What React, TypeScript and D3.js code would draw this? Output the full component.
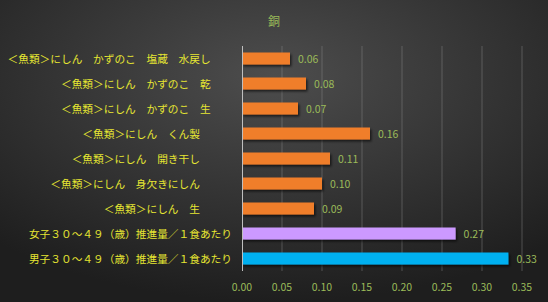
import {useEffect, useRef} from 'react';
import * as d3 from 'd3';

// data (labels keep their trailing ideographic spaces as in the source sheet)
const categories = [
  '＜魚類＞にしん　かずのこ　塩蔵　水戻し　　',
  '＜魚類＞にしん　かずのこ　乾　　',
  '＜魚類＞にしん　かずのこ　生　　',
  '＜魚類＞にしん　くん製　　　',
  '＜魚類＞にしん　開き干し　　　',
  '＜魚類＞にしん　身欠きにしん　　　',
  '＜魚類＞にしん　生　　　',
  '女子３０～４９（歳）推進量／１食あたり',
  '男子３０～４９（歳）推進量／１食あたり',
];
const values = [0.06, 0.08, 0.07, 0.16, 0.11, 0.10, 0.09, 0.267, 0.333];
const barColors = ['#F07E2C', '#F07E2C', '#F07E2C', '#F07E2C', '#F07E2C', '#F07E2C', '#F07E2C', '#CC99FF', '#00B0F0'];
const tickValues = [0, 0.05, 0.1, 0.15, 0.2, 0.25, 0.3, 0.35];
const title = '銅';

// parameters
const width = 548;
const height = 302;
const margin = {top: 46, right: 26, bottom: 31, left: 242};
const font = '"Noto Sans CJK JP", "Noto Sans", sans-serif';
const green = '#9BBB59';
const yellow = '#E6E632';

export default function App() {
  const ref = useRef(null);
  useEffect(() => {
    if (!ref.current) return;
    const svg = d3.select(ref.current);
    svg.selectAll('*').remove();

    // background
    const defs = svg.append('defs');
    const bg = defs.append('radialGradient')
      .attr('id', 'bg')
      .attr('cx', '50%').attr('cy', '25%').attr('r', '75%');
    bg.append('stop').attr('offset', '0%').attr('stop-color', '#4d4d4d');
    bg.append('stop').attr('offset', '100%').attr('stop-color', '#1e1e1e');
    const shadow = defs.append('filter').attr('id', 'shadow')
      .attr('x', '-10%').attr('y', '-30%').attr('width', '130%').attr('height', '190%');
    shadow.append('feDropShadow')
      .attr('dx', 1.5).attr('dy', 2).attr('stdDeviation', 1.2)
      .attr('flood-color', '#000').attr('flood-opacity', 0.6);

    svg.append('rect')
      .attr('width', width)
      .attr('height', height)
      .attr('fill', 'url(#bg)');

    // scales
    const x = d3.scaleLinear()
      .domain([0, 0.35])
      .range([margin.left, width - margin.right]);
    const y = d3.scaleBand()
      .domain(categories)
      .range([margin.top, height - margin.bottom])
      .paddingInner(0.52)
      .paddingOuter(0.26);

    // gridlines
    svg.append('g')
      .selectAll('line')
      .data(tickValues.slice(1))
      .enter()
      .append('line')
      .attr('x1', d => x(d))
      .attr('x2', d => x(d))
      .attr('y1', margin.top)
      .attr('y2', height - margin.bottom)
      .attr('stroke', '#8a8a8a')
      .attr('stroke-opacity', 0.45)
      .attr('stroke-width', 1);

    // bars
    svg.append('g')
      .selectAll('rect')
      .data(values)
      .enter()
      .append('rect')
      .attr('x', x(0))
      .attr('y', (d, i) => y(categories[i]) as number)
      .attr('width', d => x(d) - x(0))
      .attr('height', y.bandwidth())
      .attr('fill', (d, i) => barColors[i])
      .attr('filter', 'url(#shadow)');

    // axis line at zero
    svg.append('line')
      .attr('x1', x(0) + 0.5)
      .attr('x2', x(0) + 0.5)
      .attr('y1', margin.top)
      .attr('y2', height - margin.bottom)
      .attr('stroke', '#bfbfbf')
      .attr('stroke-width', 1);

    // data labels
    svg.append('g')
      .selectAll('text')
      .data(values)
      .enter()
      .append('text')
      .attr('x', d => x(d) + 8)
      .attr('y', (d, i) => (y(categories[i]) as number) + y.bandwidth() / 2)
      .attr('dominant-baseline', 'central')
      .attr('fill', green)
      .style('font-family', font)
      .style('font-size', '10.5px')
      .text(d => d.toFixed(2));

    // category labels
    svg.append('g')
      .selectAll('text')
      .data(categories)
      .enter()
      .append('text')
      .attr('x', margin.left - 10)
      .attr('y', d => (y(d) as number) + y.bandwidth() / 2)
      .attr('text-anchor', 'end')
      .attr('dominant-baseline', 'central')
      .attr('fill', yellow)
      .style('font-family', font)
      .style('font-size', '10.7px')
      .style('white-space', 'pre')
      .text(d => d);

    // x tick labels
    svg.append('g')
      .selectAll('text')
      .data(tickValues)
      .enter()
      .append('text')
      .attr('x', d => x(d))
      .attr('y', height - margin.bottom + 15)
      .attr('text-anchor', 'middle')
      .attr('dominant-baseline', 'central')
      .attr('fill', green)
      .style('font-family', font)
      .style('font-size', '10.5px')
      .text(d => d.toFixed(2));

    // title
    svg.append('text')
      .attr('x', width / 2)
      .attr('y', 20)
      .attr('text-anchor', 'middle')
      .attr('dominant-baseline', 'central')
      .attr('fill', green)
      .style('font-family', font)
      .style('font-size', '12px')
      .text(title);
  }, [ref]);
  return <div style={{position: 'absolute', left: 0, top: 0}}>
    <svg ref={ref} width={width} height={height} style={{display: 'block'}}/>
  </div>;
}
